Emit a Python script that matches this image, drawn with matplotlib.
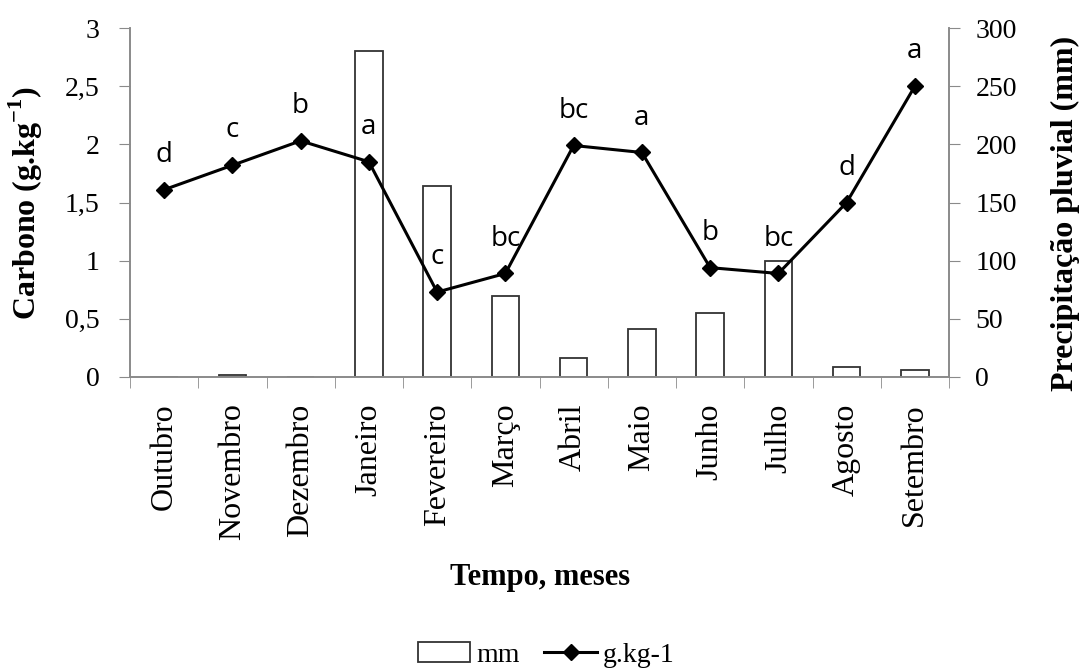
import numpy as np
import matplotlib
matplotlib.use("Agg")
import matplotlib.pyplot as plt
from matplotlib.patches import Patch
from matplotlib.lines import Line2D

meses = ["Outubro", "Novembro", "Dezembro", "Janeiro", "Fevereiro", "Março",
         "Abril", "Maio", "Junho", "Julho", "Agosto", "Setembro"]
chuva_mm = [0, 1.5, 0, 280, 164, 70, 16, 41, 55, 100, 9, 6]
carbono = [1.61, 1.82, 2.03, 1.85, 0.73, 0.89, 1.99, 1.93, 0.94, 0.89, 1.50, 2.50]
letras = ["d", "c", "b", "a", "c", "bc", "bc", "a", "b", "bc", "d", "a"]
yticks_esq = [0, 0.5, 1, 1.5, 2, 2.5, 3]
yticklabels_esq = ["0", "0,5", "1", "1,5", "2", "2,5", "3"]
yticks_dir = [0, 50, 100, 150, 200, 250, 300]

plt.rcParams['font.family'] = 'Liberation Serif'
plt.rcParams['mathtext.fontset'] = 'custom'
plt.rcParams['mathtext.rm'] = 'Liberation Serif'
plt.rcParams['mathtext.bf'] = 'Liberation Serif:bold'

cinza = '#8a8a8a'

fig = plt.figure(figsize=(10.81, 6.71), dpi=100)
ax = fig.add_axes([130/1081, 1-377/671, 819/1081, 349/671])
ax2 = ax.twinx()
ax.set_zorder(ax2.get_zorder() + 1)
ax.patch.set_visible(False)

x = np.arange(len(meses))

# barras (eixo da direita)
ax2.bar(x, chuva_mm, width=0.4, facecolor='white', edgecolor='#333333', linewidth=1.3)
ax2.set_ylim(0, 300)
ax2.set_yticks(yticks_dir)
ax2.tick_params(axis='y', direction='out', length=8, color=cinza, pad=11, labelsize=20)

# linha (eixo da esquerda)
ax.plot(x, carbono, color='black', lw=2.2, marker='D', markersize=8)
for xi, yi, t in zip(x, carbono, letras):
    ax.annotate(t, (xi, yi), xytext=(0, 20), textcoords='offset points',
                ha='center', va='baseline', fontsize=20, family='Open Sans')

ax.set_ylim(0, 3)
ax.set_yticks(yticks_esq)
ax.set_yticklabels(yticklabels_esq)
ax.tick_params(axis='y', direction='out', length=8, color=cinza, pad=14, labelsize=20)

ax.set_xlim(-0.5, len(meses) - 0.5)
ax.set_xticks(x)
ax.set_xticklabels(meses, rotation=90, ha='center', va='top', fontsize=23)
ax.set_xticks(np.arange(-0.5, len(meses)), minor=True)
ax.tick_params(axis='x', which='major', length=0, pad=19)
ax.tick_params(axis='x', which='minor', direction='out', length=8, color=cinza)

for a in (ax, ax2):
    a.spines['top'].set_visible(False)
    for s in ('left', 'right', 'bottom'):
        a.spines[s].set_color(cinza)
        a.spines[s].set_linewidth(1.2)

fig.text(26/1081, 1-203/671, r'Carbono (g.kg$^{\mathbf{-1}}$)', rotation=90,
         ha='center', va='center', fontsize=23, fontweight='bold')
fig.text(1065/1081, 1-213/671, 'Precipitação pluvial (mm)', rotation=90,
         ha='center', va='center', fontsize=23, fontweight='bold')
fig.text(540/1081, 1-578/671, 'Tempo, meses', ha='center', va='center',
         fontsize=22, fontweight='bold')

handles = [Patch(facecolor='white', edgecolor='#333333', linewidth=1.3),
           Line2D([], [], color='black', lw=2.2, marker='D', markersize=8)]
fig.legend(handles, ['mm', 'g.kg-1'], loc='center', bbox_to_anchor=(546/1081, 1-655/671),
           ncol=2, frameon=False, fontsize=20, handlelength=1.9, handletextpad=0.2,
           columnspacing=0.9)

fig.savefig('out.png', dpi=100)
